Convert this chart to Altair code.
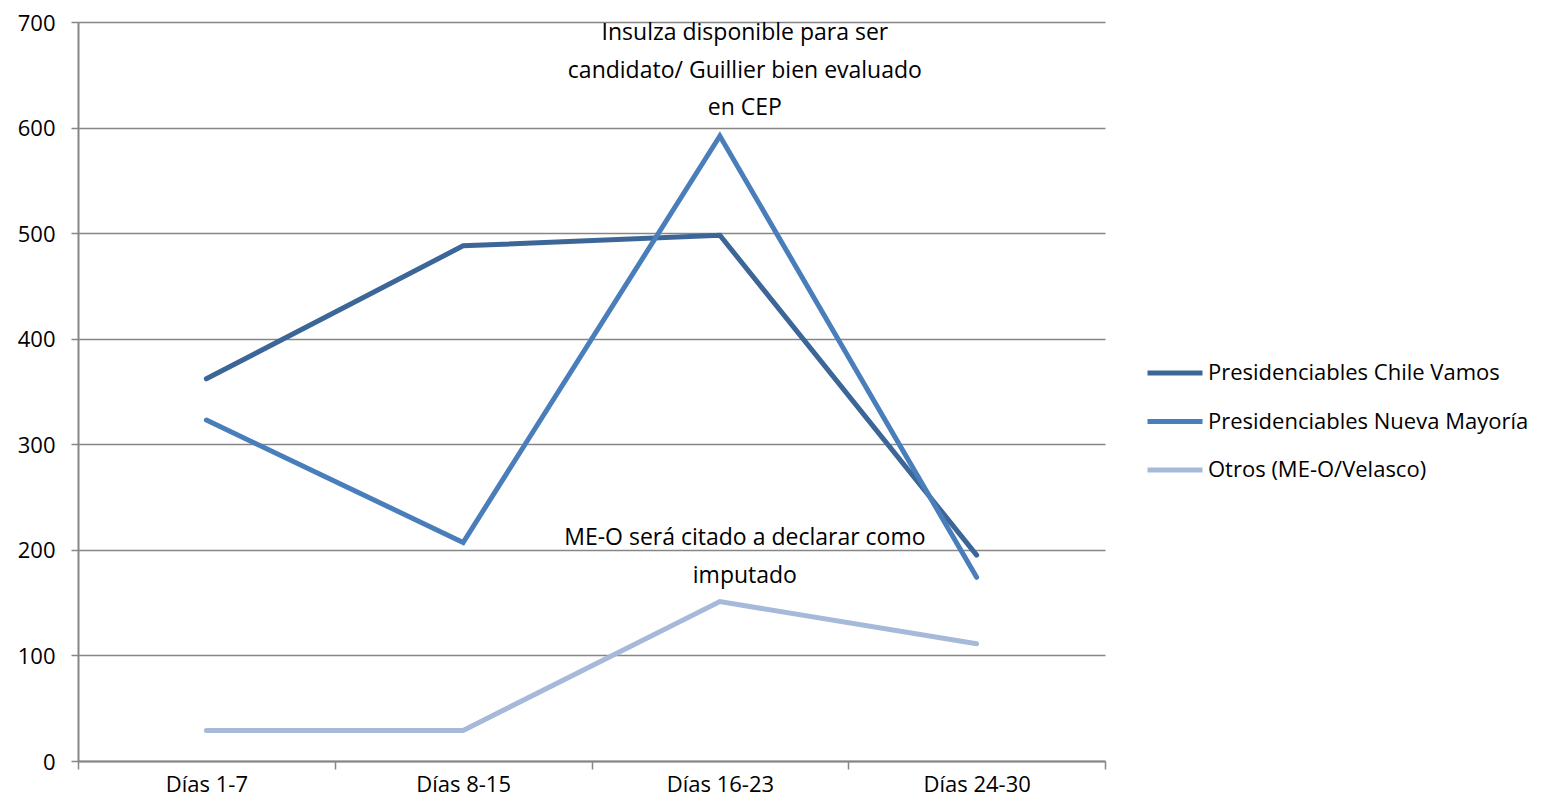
import altair as alt
import pandas as pd

categories = ["Días 1-7", "Días 8-15", "Días 16-23", "Días 24-30"]
series_names = ["Presidenciables Chile Vamos", "Presidenciables Nueva Mayoría", "Otros (ME-O/Velasco)"]
chile_vamos = [362, 488, 498, 195]
nueva_mayoria = [323, 207, 592, 174]
otros = [29, 29, 151, 111]
colors = ["#3C6698", "#4A7EBB", "#A7B9D8"]

ann_lines = ["Insulza disponible para ser", "candidato/ Guillier bien evaluado", "en CEP",
             "ME-O será citado a declarar como", "imputado"]
ann_y = [690, 654, 619, 211, 175]
ann_cat = ["Días 16-23"] * 5

FONT = "Open Sans"
FS = 23

rows = []
for name, vals in zip(series_names, [chile_vamos, nueva_mayoria, otros]):
    for c, v in zip(categories, vals):
        rows.append({"cat": c, "serie": name, "valor": v})
df = pd.DataFrame(rows)
ann = pd.DataFrame({"cat": ann_cat, "valor": ann_y, "texto": ann_lines})

xscale = alt.Scale(domain=categories, paddingInner=0, paddingOuter=0)
yscale = alt.Scale(domain=[0, 700])

lines = alt.Chart(df).mark_line(strokeWidth=5, strokeCap="round", strokeJoin="miter").encode(
    x=alt.X("cat:N", scale=xscale, sort=categories,
            axis=alt.Axis(title=None, labelAngle=0, tickBand="extent", tickSize=8,
                          labelPadding=5, grid=False, labelFontSize=22)),
    y=alt.Y("valor:Q", scale=yscale,
            axis=alt.Axis(title=None, values=[0, 100, 200, 300, 400, 500, 600, 700],
                          tickSize=7, labelPadding=16, grid=True, labelFontSize=22,
                          labelOffset=1)),
    color=alt.Color("serie:N", scale=alt.Scale(domain=series_names, range=colors),
                    sort=series_names,
                    legend=alt.Legend(title=None, orient="none", legendX=1067, legendY=321,
                                      symbolType="stroke", symbolSize=3025,
                                      symbolStrokeWidth=5, labelFontSize=22, labelFont=FONT,
                                      labelColor="#000000", labelOffset=3, rowPadding=7.5,
                                      labelLimit=470)),
    order=alt.Order("serie:N"),
)

texts = alt.Chart(ann).mark_text(fontSize=FS, font=FONT, color="#000000", dx=25,
                                 align="center", baseline="middle").encode(
    x=alt.X("cat:N", scale=xscale, sort=categories),
    y=alt.Y("valor:Q", scale=yscale),
    text="texto:N",
)

chart = alt.layer(lines, texts).properties(
    width=1027, height=739,
    autosize=alt.AutoSizeParams(type="none"),
    padding={"left": 70, "top": 14, "right": 430, "bottom": 39},
).configure_view(stroke=None).configure_axis(
    labelFont=FONT, labelColor="#000000",
    domainColor="#868686", domainWidth=2, tickColor="#868686", tickWidth=1.5,
    gridColor="#868686", gridWidth=1.5,
)

chart.save("out.html", embed_options={"renderer": "svg", "actions": False})
